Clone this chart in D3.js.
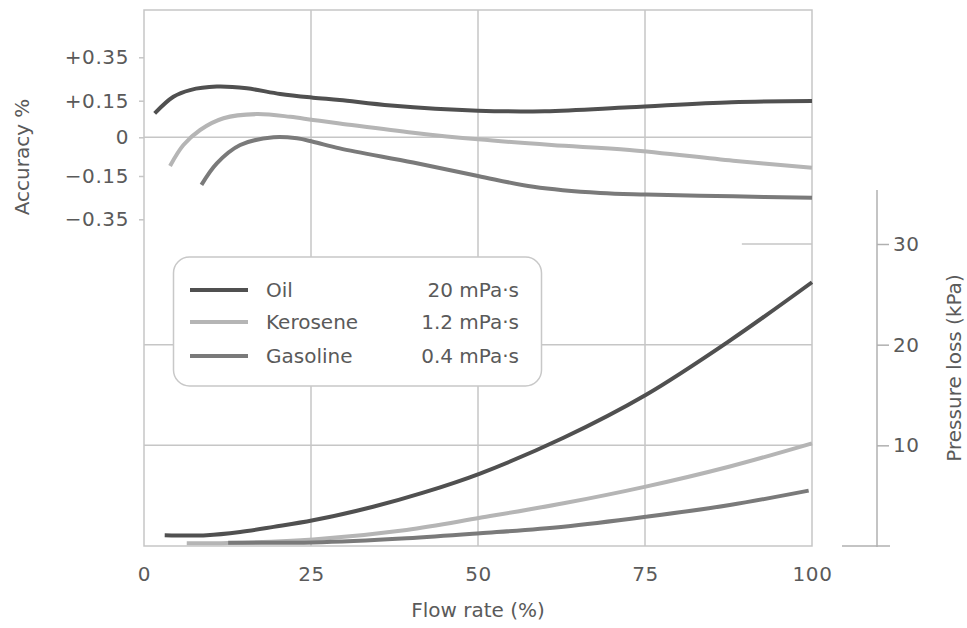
<!DOCTYPE html>
<html>
<head>
<meta charset="utf-8">
<script src="https://cdn.jsdelivr.net/npm/d3@7/dist/d3.min.js"></script>
<style>
  html, body { margin: 0; padding: 0; background: #fff; }
  svg { display: block; }
  text { font-family: "DejaVu Sans", sans-serif; fill: #5a5a5a; }
</style>
</head>
<body>
<svg id="chart" width="967" height="628"></svg>
<script>
// ---------- data ----------
const flowTicks = [0, 25, 50, 75, 100];
const accuracyTicks = [0.35, 0.15, 0, -0.15, -0.35];
const accuracyTickLabels = ["+0.35", "+0.15", "0", "\u22120.15", "\u22120.35"];
const pressureTicks = [10, 20, 30];

const seriesNames = ["Oil", "Kerosene", "Gasoline"];
const viscosities = ["20 mPa\u00b7s", "1.2 mPa\u00b7s", "0.4 mPa\u00b7s"];

// accuracy curves (flow %, accuracy %)
const oilAccFlow = [1.6, 4.4, 6.9, 10.9, 15.4, 20.4, 25.3, 29.3, 37, 50, 60, 72.7, 88, 100];
const oilAcc     = [0.098, 0.168, 0.199, 0.215, 0.207, 0.181, 0.164, 0.153, 0.13, 0.109, 0.107, 0.123, 0.144, 0.149];
const keroAccFlow = [3.9, 5.9, 8.4, 11.9, 16.8, 21.9, 25.3, 29.3, 40.3, 50, 61, 72.7, 88.2, 100];
const keroAcc     = [-0.111, -0.03, 0.03, 0.078, 0.095, 0.084, 0.071, 0.057, 0.019, -0.008, -0.030, -0.049, -0.091, -0.118];
const gasAccFlow = [8.6, 10.9, 14.4, 19.4, 22.9, 25.3, 29.3, 40.3, 50, 58.3, 68.3, 75.2, 88.2, 100];
const gasAcc     = [-0.191, -0.101, -0.03, 0.0, -0.004, -0.017, -0.043, -0.098, -0.15, -0.2, -0.229, -0.236, -0.244, -0.251];

// pressure-loss curves (flow %, kPa)
const oilPFlow = [3.1, 9.4, 14.4, 19.4, 25.3, 34.3, 41.8, 50.3, 62.8, 75.1, 87.7, 100];
const oilP     = [1.08, 1.08, 1.4, 1.9, 2.55, 3.9, 5.3, 7.2, 10.75, 15.0, 20.4, 26.2];
const keroPFlow = [6.4, 12.6, 25.3, 39.3, 50.3, 62.8, 75.1, 87.7, 100];
const keroP     = [0.27, 0.3, 0.65, 1.6, 2.8, 4.24, 5.9, 7.9, 10.2];
const gasPFlow = [12.6, 25.3, 39.3, 50.3, 62.8, 75.1, 87.7, 99.5];
const gasP     = [0.33, 0.35, 0.76, 1.26, 1.92, 2.9, 4.07, 5.5];

const colors = ["#505050", "#b5b5b5", "#7a7a7a"];

// ---------- layout ----------
const svg = d3.select("#chart");
const L = 144, R = 812, T = 10, B = 546;
const gridColor = "#c6c6c6";

const x = d3.scaleLinear().domain([0, 100]).range([L, R]);
const yAcc = d3.scaleLinear()
  .domain([-0.35, -0.15, 0, 0.15, 0.35])
  .range([219.3, 176, 137.3, 100.7, 57.3]);
const yP = d3.scaleLinear().domain([0, 30]).range([546, 244]);

// grid
const grid = svg.append("g").attr("stroke", gridColor).attr("stroke-width", 1.5).attr("fill", "none");
[25, 50, 75].forEach(v => grid.append("line")
  .attr("x1", x(v)).attr("x2", x(v)).attr("y1", T).attr("y2", B));
grid.append("line").attr("x1", L).attr("x2", R).attr("y1", yAcc(0)).attr("y2", yAcc(0));
[10, 20].forEach(v => grid.append("line")
  .attr("x1", L).attr("x2", R).attr("y1", yP(v)).attr("y2", yP(v)));
grid.append("line").attr("x1", x(89.5)).attr("x2", R).attr("y1", yP(30)).attr("y2", yP(30));
grid.append("rect").attr("x", L).attr("y", T).attr("width", R - L).attr("height", B - T);

// left axis
const axL = svg.append("g").attr("transform", `translate(${L},0)`)
  .call(d3.axisLeft(yAcc).tickValues(accuracyTicks)
    .tickFormat((d, i) => accuracyTickLabels[i]).tickSize(5).tickPadding(10));
axL.select(".domain").remove();
axL.selectAll("line").attr("stroke", gridColor).attr("stroke-width", 1.5);
axL.selectAll("text").attr("font-size", 20).attr("fill", "#5a5a5a")
  .attr("font-family", "DejaVu Sans").attr("letter-spacing", 0.6);

// bottom axis
const axB = svg.append("g").attr("transform", `translate(0,${B})`)
  .call(d3.axisBottom(x).tickValues(flowTicks).tickSize(0).tickPadding(21));
axB.select(".domain").remove();
axB.selectAll("text").attr("font-size", 20).attr("fill", "#5a5a5a")
  .attr("font-family", "DejaVu Sans").attr("letter-spacing", 0.6);

// right axis
const RX = 877;
svg.append("line").attr("x1", RX).attr("x2", RX).attr("y1", 190).attr("y2", 547)
  .attr("stroke", "#b0b0b0").attr("stroke-width", 1.5);
svg.append("line").attr("x1", 842).attr("x2", 890).attr("y1", yP(0)).attr("y2", yP(0))
  .attr("stroke", "#b0b0b0").attr("stroke-width", 1.5);
const axR = svg.append("g").attr("transform", `translate(${RX},0)`)
  .call(d3.axisRight(yP).tickValues(pressureTicks).tickSize(12).tickPadding(4));
axR.select(".domain").remove();
axR.selectAll("line").attr("stroke", "#b0b0b0").attr("stroke-width", 1.5);
axR.selectAll("text").attr("font-size", 20).attr("fill", "#5a5a5a")
  .attr("font-family", "DejaVu Sans").attr("letter-spacing", 0.6);

// axis titles
svg.append("text").attr("transform", "translate(29,157) rotate(-90)")
  .attr("text-anchor", "middle").attr("font-size", 20).text("Accuracy %");
svg.append("text").attr("transform", "translate(961,368) rotate(-90)")
  .attr("text-anchor", "middle").attr("font-size", 20).text("Pressure loss (kPa)");
svg.append("text").attr("x", x(50)).attr("y", 617)
  .attr("text-anchor", "middle").attr("font-size", 20).text("Flow rate (%)");

// curves
const line = d3.line().x(d => x(d[0])).curve(d3.curveCatmullRom.alpha(0.5));
const accSeries = [
  d3.zip(oilAccFlow, oilAcc), d3.zip(keroAccFlow, keroAcc), d3.zip(gasAccFlow, gasAcc)
];
const pSeries = [
  d3.zip(oilPFlow, oilP), d3.zip(keroPFlow, keroP), d3.zip(gasPFlow, gasP)
];
const curves = svg.append("g").attr("fill", "none").attr("stroke-width", 4).attr("stroke-linecap", "butt");
accSeries.forEach((s, i) => curves.append("path")
  .attr("d", line.y(d => yAcc(d[1]))(s)).attr("stroke", colors[i]));
pSeries.forEach((s, i) => curves.append("path")
  .attr("d", line.y(d => yP(d[1]))(s)).attr("stroke", colors[i]));

// legend
const lg = svg.append("g");
lg.append("rect").attr("x", 173.5).attr("y", 257).attr("width", 368).attr("height", 129)
  .attr("rx", 16).attr("fill", "#fff").attr("stroke", "#c8c8c8").attr("stroke-width", 1.5);
const rowsY = [290, 322, 356];
seriesNames.forEach((n, i) => {
  lg.append("line").attr("x1", 190).attr("x2", 248).attr("y1", rowsY[i]).attr("y2", rowsY[i])
    .attr("stroke", colors[i]).attr("stroke-width", 4);
  lg.append("text").attr("x", 266).attr("y", rowsY[i] + 7).attr("font-size", 20).text(n);
  lg.append("text").attr("x", 519).attr("y", rowsY[i] + 7).attr("font-size", 20)
    .attr("text-anchor", "end").text(viscosities[i]);
});
</script>
</body>
</html>
